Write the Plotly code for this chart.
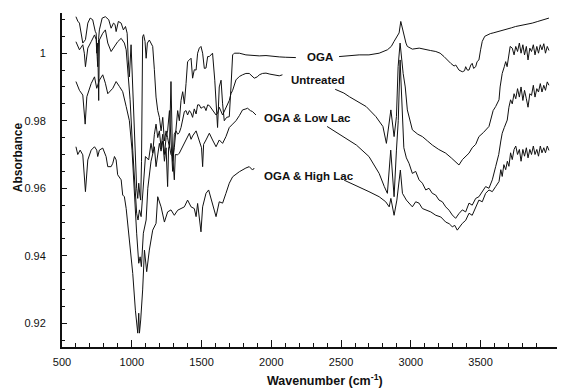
import plotly.graph_objects as go

# ---------------- data (wavenumber cm-1, absorbance) ----------------
oga_w = [600, 613, 625, 640, 649, 668, 685, 702, 720, 738, 745, 752, 756, 762, 768, 788, 811, 835, 852, 869,
         880, 888, 904, 924, 940, 955, 967, 975, 983, 995, 1002, 1012, 1024, 1035, 1043, 1050, 1058, 1064, 1070, 1075,
         1078, 1085, 1095, 1103, 1112, 1126, 1140, 1150, 1162, 1174, 1186, 1198, 1210, 1222, 1234, 1246, 1257, 1270, 1281, 1288,
         1293, 1305, 1317, 1329, 1341, 1353, 1365, 1377, 1389, 1400, 1413, 1425, 1436, 1448, 1461, 1472, 1484, 1496, 1508, 1520,
         1532, 1544, 1556, 1579, 1595, 1604, 1615, 1627, 1640, 1651, 1663, 1680, 1699, 1711, 1718, 1723, 1735, 1771, 1818, 1866,
         1914, 1962, 2009, 2057, 2100, 2176, None,
         2486, 2560, 2630, 2700, 2773, 2832, 2860, 2880, 2905, 2916, 2928, 2940, 2952, 2965, 2975, 3011, 3060, 3107, 3140, 3179,
         3210, 3238, 3260, 3286, 3310, 3322, 3345, 3369, 3385, 3393, 3405, 3417, 3430, 3440, 3450, 3465, 3475, 3488, 3500, 3512,
         3530, 3548, 3570, 3590, 3610, 3632, 3660, 3690, 3720, 3751, 3790, 3830, 3870, 3910, 3950, 3990]
oga_a = [1.0108, 1.0095, 1.0089, 1.0050, 1.0030, 1.0040, 1.0089, 1.0104, 1.0099, 1.0065, 1.0059, 0.9990, 0.9960, 1.0040, 1.0069, 1.0104, 1.0108, 1.0099, 1.0074, 1.0089,
         1.0085, 1.0064, 1.0094, 1.0089, 1.0069, 1.0079, 1.0059, 0.9980, 0.9930, 1.0025, 0.9950, 0.9800, 0.9680, 0.9600, 0.9570, 0.9615, 0.9580, 0.9565, 0.9680, 0.9850,
         1.0049, 1.0055, 1.0035, 0.9985, 1.0030, 1.0039, 1.0030, 1.0020, 0.9951, 0.9870, 0.9830, 0.9810, 0.9770, 0.9810, 0.9740, 0.9770, 0.9750, 0.9720, 0.9916, 0.9700,
         0.9680, 0.9720, 0.9780, 0.9830, 0.9800, 0.9860, 0.9886, 0.9850, 0.9910, 0.9975, 0.9980, 0.9985, 0.9926, 0.9951, 0.9950, 1.0000, 1.0015, 1.0020, 1.0000, 0.9955,
         0.9956, 0.9990, 0.9990, 1.0000, 0.9920, 0.9850, 0.9780, 0.9900, 0.9920, 0.9850, 0.9800, 0.9810, 0.9812, 0.9900, 0.9985, 0.9995, 1.0000, 1.0000, 0.9995, 0.9993,
         0.9992, 0.9993, 0.9990, 0.9989, 0.9988, 0.9987, None,
         0.9990, 0.9993, 0.9995, 0.9995, 1.0000, 1.0010, 1.0020, 1.0035, 1.0055, 1.0060, 1.0094, 1.0070, 1.0054, 1.0030, 1.0020, 1.0012, 1.0015, 1.0010, 1.0008, 1.0005,
         1.0000, 0.9990, 0.9980, 0.9970, 0.9962, 0.9965, 0.9950, 0.9945, 0.9948, 0.9960, 0.9950, 0.9950, 0.9965, 0.9970, 0.9955, 0.9960, 0.9975, 0.9980, 1.0010, 1.0035,
         1.0050, 1.0054, 1.0058, 1.0060, 1.0062, 1.0064, 1.0068, 1.0072, 1.0075, 1.0079, 1.0082, 1.0086, 1.0089, 1.0094, 1.0098, 1.0104]

unt_w = [600, 613, 625, 649, 660, 668, 678, 685, 709, 733, 745, 749, 756, 763, 768, 792, 811, 828, 852, 876,
         899, 924, 947, 960, 971, 988, 1007, 1024, 1035, 1045, 1055, 1067, 1083, 1098, 1121, 1138, 1150, 1162, 1174, 1186,
         1198, 1210, 1222, 1234, 1246, 1257, 1270, 1281, 1293, 1305, 1317, 1329, 1341, 1353, 1365, 1377, 1389, 1400, 1413, 1425,
         1436, 1448, 1461, 1472, 1484, 1496, 1508, 1520, 1532, 1544, 1556, 1579, 1604, 1615, 1627, 1651, 1675, 1699, 1711, 1723,
         1747, 1771, 1794, 1818, 1842, 1866, 1878, 1900, 1914, 1937, 1962, 1990, 2009, 2040, 2057, 2080, None,
         2458, 2520, 2560, 2630, 2680, 2750, 2800, 2825, 2840, 2857, 2880, 2897, 2909, 2923, 2945, 2960, 2975, 3011, 3050, 3083,
         3120, 3154, 3200, 3250, 3290, 3320, 3345, 3370, 3393, 3417, 3440, 3465, 3488, 3520, 3560, 3590, 3608, 3632, 3640, 3655,
         3670, 3680, 3690, 3700, 3712, 3727, 3740, 3752, 3765, 3778, 3790, 3803, 3815, 3828, 3840, 3853, 3865, 3878, 3890, 3903,
         3915, 3928, 3940, 3953, 3965, 3978, 3990]
unt_a = [1.0034, 1.0020, 1.0010, 1.0025, 1.0000, 0.9960, 1.0000, 1.0015, 1.0034, 1.0054, 1.0040, 1.0000, 1.0030, 0.9860, 1.0039, 1.0059, 1.0069, 1.0030, 1.0005, 1.0020,
         1.0034, 1.0044, 1.0030, 1.0010, 0.9960, 0.9862, 0.9713, 0.9615, 0.9526, 0.9506, 0.9536, 0.9516, 0.9605, 0.9694, 0.9684, 0.9733, 0.9704, 0.9760, 0.9790, 0.9750,
         0.9770, 0.9720, 0.9760, 0.9700, 0.9750, 0.9770, 0.9830, 0.9750, 0.9650, 0.9760, 0.9770, 0.9760, 0.9765, 0.9780, 0.9810, 0.9827, 0.9830, 0.9817, 0.9830, 0.9823,
         0.9810, 0.9835, 0.9820, 0.9847, 0.9847, 0.9837, 0.9840, 0.9842, 0.9830, 0.9847, 0.9845, 0.9830, 0.9817, 0.9822, 0.9840, 0.9817, 0.9837, 0.9860, 0.9880, 0.9890,
         0.9921, 0.9931, 0.9936, 0.9940, 0.9940, 0.9932, 0.9926, 0.9930, 0.9936, 0.9940, 0.9941, 0.9938, 0.9936, 0.9934, 0.9933, 0.9936, None,
         0.9893, 0.9882, 0.9871, 0.9855, 0.9842, 0.9812, 0.9783, 0.9733, 0.9773, 0.9832, 0.9753, 0.9812, 0.9960, 1.0030, 0.9940, 0.9900, 0.9832, 0.9773, 0.9760, 0.9753,
         0.9740, 0.9728, 0.9715, 0.9704, 0.9690, 0.9678, 0.9669, 0.9685, 0.9694, 0.9704, 0.9720, 0.9730, 0.9753, 0.9765, 0.9783, 0.9830, 0.9842, 0.9862, 0.9900, 0.9940,
         0.9960, 0.9975, 0.9960, 0.9990, 1.0020, 1.0015, 0.9995, 1.0020, 1.0005, 1.0030, 1.0000, 1.0025, 0.9995, 1.0020, 0.9980, 1.0015, 1.0005, 1.0025, 0.9995, 1.0020,
         1.0000, 1.0025, 1.0010, 1.0028, 1.0000, 1.0020, 1.0008]

low_w = [600, 625, 649, 666, 678, 709, 733, 749, 768, 792, 811, 828, 864, 888, 912, 935, 960, 983, 1002, 1019,
         1035, 1050, 1060, 1069, 1083, 1103, 1115, 1138, 1162, 1174, 1198, 1210, 1222, 1234, 1246, 1257, 1264, 1270, 1281, 1293,
         1305, 1312, 1329, 1341, 1365, 1389, 1413, 1425, 1436, 1461, 1484, 1500, 1508, 1515, 1532, 1556, 1579, 1604, 1627, 1651,
         1675, 1699, 1723, 1747, 1771, 1794, 1818, 1830, 1850, 1866, 1890, None,
         2400, 2470, 2510, 2580, 2610, 2700, 2773, 2810, 2832, 2856, 2880, 2897, 2910, 2923, 2935, 2950, 2968, 2987, 3011, 3035,
         3059, 3083, 3107, 3130, 3154, 3178, 3202, 3226, 3250, 3274, 3297, 3321, 3345, 3369, 3393, 3417, 3440, 3465, 3488, 3512,
         3536, 3560, 3584, 3608, 3630, 3645, 3655, 3670, 3691, 3703, 3715, 3727, 3740, 3752, 3765, 3778, 3790, 3803, 3815, 3828,
         3840, 3853, 3865, 3878, 3890, 3903, 3915, 3928, 3940, 3953, 3965, 3978, 3990]
low_a = [0.9916, 0.9890, 0.9876, 0.9790, 0.9871, 0.9910, 0.9930, 0.9896, 0.9920, 0.9936, 0.9911, 0.9880, 0.9896, 0.9916, 0.9901, 0.9886, 0.9842, 0.9800, 0.9713, 0.9565,
         0.9467, 0.9378, 0.9397, 0.9368, 0.9467, 0.9506, 0.9600, 0.9680, 0.9723, 0.9664, 0.9733, 0.9710, 0.9740, 0.9680, 0.9720, 0.9605, 0.9720, 0.9725, 0.9700, 0.9695,
         0.9625, 0.9700, 0.9699, 0.9704, 0.9723, 0.9743, 0.9763, 0.9745, 0.9755, 0.9770, 0.9743, 0.9720, 0.9664, 0.9730, 0.9743, 0.9763, 0.9743, 0.9723, 0.9743, 0.9733,
         0.9753, 0.9780, 0.9790, 0.9800, 0.9815, 0.9832, 0.9835, 0.9837, 0.9830, 0.9827, 0.9817, None,
         0.9783, 0.9765, 0.9753, 0.9735, 0.9728, 0.9694, 0.9644, 0.9605, 0.9585, 0.9713, 0.9575, 0.9713, 0.9800, 0.9980, 0.9850, 0.9720, 0.9690, 0.9674, 0.9644, 0.9650,
         0.9625, 0.9615, 0.9595, 0.9600, 0.9585, 0.9580, 0.9565, 0.9560, 0.9545, 0.9535, 0.9521, 0.9511, 0.9525, 0.9536, 0.9530, 0.9556, 0.9550, 0.9570, 0.9575, 0.9590,
         0.9605, 0.9600, 0.9625, 0.9664, 0.9700, 0.9740, 0.9763, 0.9780, 0.9802, 0.9840, 0.9862, 0.9850, 0.9880, 0.9865, 0.9895, 0.9870, 0.9900, 0.9860, 0.9890, 0.9865,
         0.9840, 0.9880, 0.9875, 0.9905, 0.9870, 0.9895, 0.9885, 0.9910, 0.9885, 0.9905, 0.9890, 0.9915, 0.9905]

high_w = [600, 613, 630, 649, 668, 685, 709, 733, 749, 756, 768, 792, 816, 828, 852, 864, 876, 888, 899, 924,
          935, 947, 960, 983, 1007, 1026, 1043, 1050, 1055, 1064, 1078, 1091, 1107, 1126, 1150, 1174, 1186, 1210, 1234, 1257,
          1281, 1305, 1329, 1353, 1377, 1400, 1425, 1448, 1461, 1472, 1496, 1508, 1532, 1551, 1579, 1604, 1627, 1651, 1675, 1699,
          1723, 1771, 1818, 1842, 1866, 1878, None,
          2522, 2600, 2630, 2700, 2773, 2820, 2845, 2857, 2880, 2900, 2925, 2940, 2968, 3011, 3035, 3059, 3083, 3107, 3143, 3179,
          3215, 3250, 3275, 3297, 3315, 3333, 3350, 3369, 3393, 3417, 3440, 3465, 3488, 3512, 3536, 3560, 3584, 3608, 3632, 3645,
          3655, 3667, 3680, 3692, 3703, 3715, 3727, 3740, 3752, 3765, 3778, 3790, 3803, 3815, 3828, 3840, 3853, 3865, 3878, 3890,
          3903, 3915, 3928, 3940, 3953, 3965, 3978, 3990]
high_a = [0.9723, 0.9700, 0.9713, 0.9699, 0.9590, 0.9684, 0.9713, 0.9723, 0.9713, 0.9694, 0.9713, 0.9719, 0.9694, 0.9664, 0.9664, 0.9674, 0.9694, 0.9684, 0.9640, 0.9625,
          0.9580, 0.9575, 0.9540, 0.9450, 0.9348, 0.9239, 0.9171, 0.9230, 0.9171, 0.9210, 0.9299, 0.9417, 0.9353, 0.9417, 0.9476, 0.9496, 0.9575, 0.9545, 0.9500, 0.9530,
          0.9536, 0.9520, 0.9535, 0.9540, 0.9545, 0.9565, 0.9545, 0.9540, 0.9516, 0.9555, 0.9471, 0.9545, 0.9585, 0.9595, 0.9556, 0.9516, 0.9560, 0.9556, 0.9585, 0.9615,
          0.9634, 0.9649, 0.9660, 0.9664, 0.9654, 0.9660, None,
          0.9624, 0.9610, 0.9605, 0.9590, 0.9575, 0.9560, 0.9545, 0.9570, 0.9520, 0.9565, 0.9654, 0.9585, 0.9565, 0.9545, 0.9560, 0.9556, 0.9540, 0.9536, 0.9530, 0.9520,
          0.9515, 0.9500, 0.9495, 0.9486, 0.9490, 0.9476, 0.9485, 0.9496, 0.9505, 0.9526, 0.9520, 0.9545, 0.9565, 0.9560, 0.9585, 0.9595, 0.9590, 0.9605, 0.9620, 0.9655,
          0.9635, 0.9670, 0.9655, 0.9680, 0.9665, 0.9705, 0.9685, 0.9715, 0.9725, 0.9700, 0.9715, 0.9680, 0.9715, 0.9695, 0.9720, 0.9690, 0.9715, 0.9700, 0.9725, 0.9700,
          0.9715, 0.9695, 0.9725, 0.9705, 0.9720, 0.9705, 0.9725, 0.9712]

series = [("OGA", oga_w, oga_a), ("Untreated", unt_w, unt_a),
          ("OGA & Low Lac", low_w, low_a), ("OGA & High Lac", high_w, high_a)]

# label positions (data coordinates)
label_text = ["OGA", "Untreated", "OGA & Low Lac", "OGA & High Lac"]
label_w = [2348, 2336, 2262, 2272]
label_a = [0.9990, 0.9921, 0.9807, 0.9637]

x_major = [500, 1000, 1500, 2000, 2500, 3000, 3500]
x_minor = [v for v in range(600, 4000, 100) if v % 500 != 0]
y_major = [0.92, 0.94, 0.96, 0.98, 1.0]
y_major_text = ["0.92", "0.94", "0.96", "0.98", "1"]

FONT = "Liberation Sans, Arial, sans-serif"

fig = go.Figure()
for name, w, a in series:
    fig.add_trace(go.Scatter(x=w, y=a, mode="lines", name=name, connectgaps=False,
                             line=dict(color="#111111", width=1), showlegend=False))

for t, xw, ya in zip(label_text, label_w, label_a):
    fig.add_annotation(x=xw, y=ya, text="<b>" + t.replace("&", "&amp;") + "</b>", showarrow=False,
                       xanchor="center", yanchor="middle",
                       font=dict(family=FONT, size=11.5, color="#111111"))

# page body has an 8px margin: figure is laid out 8px smaller / shifted
fig.add_annotation(xref="paper", yref="paper", x=-0.087, y=0.569, text="<b>Absorbance</b>",
                   textangle=-90, showarrow=False, xanchor="center", yanchor="middle",
                   font=dict(family=FONT, size=12, color="#111111"))
fig.add_annotation(xref="paper", yref="paper", x=0.523, y=-0.098, text="<b>Wavenumber (cm<sup>-1</sup>)</b>",
                   showarrow=False, xanchor="center", yanchor="middle",
                   font=dict(family=FONT, size=12.5, color="#111111"))

fig.update_layout(
    width=557, height=381,
    margin=dict(l=54, r=0, t=5, b=42, autoexpand=False),
    paper_bgcolor="white", plot_bgcolor="white",
    font=dict(family=FONT, size=11, color="#111111"),
)
fig.update_xaxes(range=[500, 4105], tickmode="array", tickvals=x_major, ticks="inside", ticklen=7,
                 tickwidth=1.3, tickcolor="#111111", showline=True, linecolor="#111111", linewidth=2,
                 showgrid=False, zeroline=False, ticklabelstandoff=4, automargin=False,
                 minor=dict(tickmode="array", tickvals=x_minor, ticks="inside", ticklen=4,
                            tickcolor="#111111", tickwidth=1, showgrid=False),
                 tickfont=dict(size=11))
fig.update_yaxes(range=[0.913, 1.0119], tickmode="array", tickvals=y_major, ticktext=y_major_text,
                 ticks="inside", ticklen=5, tickwidth=1.3, tickcolor="#111111", showline=True,
                 linecolor="#111111", linewidth=2, showgrid=False, zeroline=False, ticklabelstandoff=12,
                 automargin=False,
                 minor=dict(tick0=0.91, dtick=0.005, ticks="inside", ticklen=3, tickcolor="#111111",
                            tickwidth=1, showgrid=False),
                 tickfont=dict(size=11))

fig.write_html("out.html")
